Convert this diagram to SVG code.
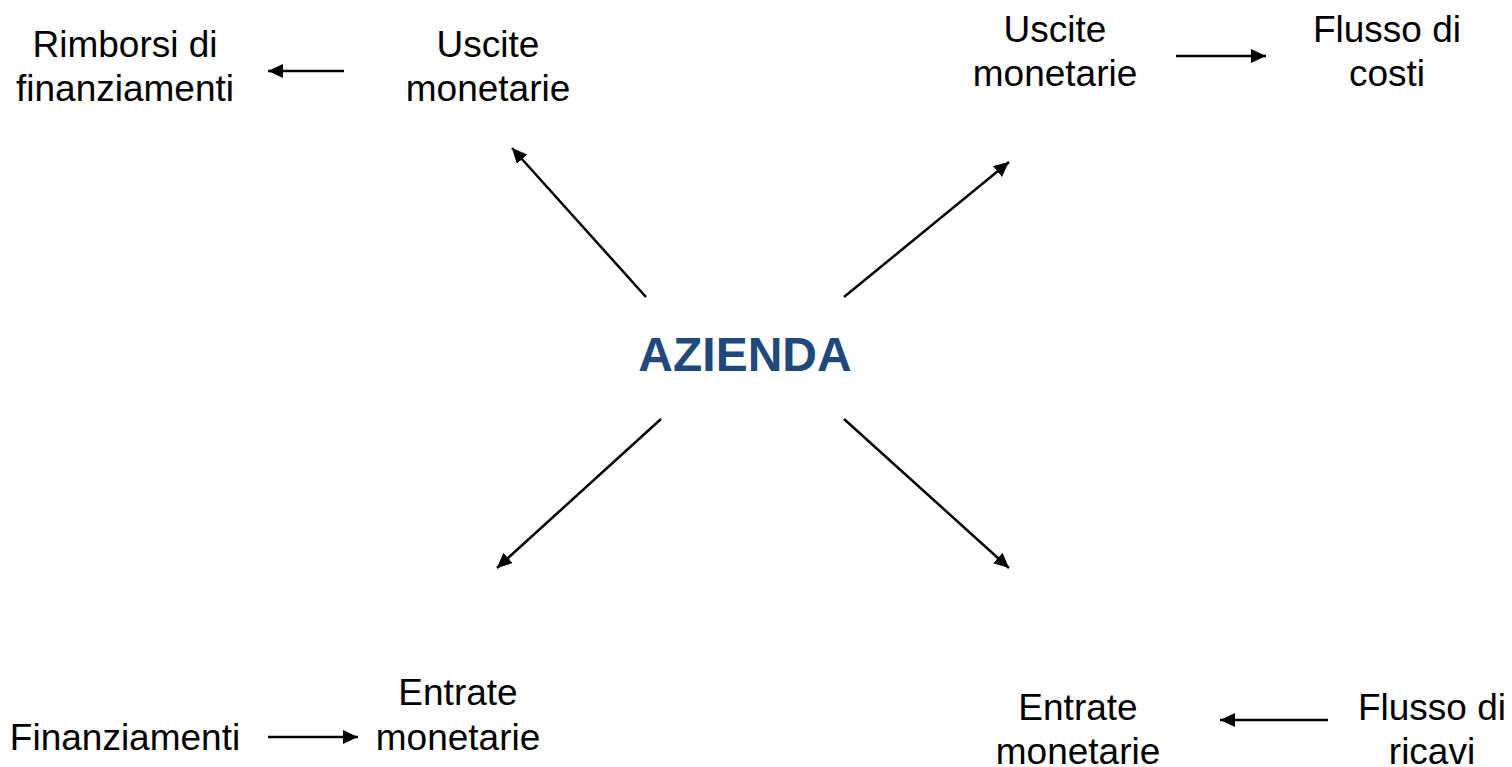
<svg xmlns="http://www.w3.org/2000/svg" width="1512" height="767" viewBox="0 0 1512 767">
  <defs>
    <marker id="arrow" markerUnits="userSpaceOnUse" markerWidth="17" markerHeight="16" refX="15" refY="7" orient="auto">
      <path d="M0,0 L15,7 L0,14 Z" fill="#000"/>
    </marker>
    <style>
      .lbl { font-family: "Liberation Sans", Arial, sans-serif; font-size: 37px; fill: #000; text-anchor: middle; }
      .hub { font-family: "Liberation Sans", Arial, sans-serif; font-size: 48px; font-weight: bold; fill: #1F497D; text-anchor: middle; }
      .edge { stroke: #000; stroke-width: 2.5; fill: none; marker-end: url(#arrow); }
    </style>
  </defs>
  <rect width="1512" height="767" fill="#fff"/>

  <g id="connectors">
    <line class="edge" x1="646" y1="297" x2="512" y2="148"/>
    <line class="edge" x1="844" y1="297" x2="1009" y2="162"/>
    <line class="edge" x1="661" y1="419" x2="497" y2="568"/>
    <line class="edge" x1="844" y1="419" x2="1009" y2="568"/>
    <line class="edge" x1="344" y1="71" x2="268" y2="71"/>
    <line class="edge" x1="1176" y1="56" x2="1266" y2="56"/>
    <line class="edge" x1="268" y1="737" x2="358" y2="737"/>
    <line class="edge" x1="1328" y1="720" x2="1220" y2="720"/>
  </g>

  <g id="azienda">
    <text class="hub" x="745" y="371">AZIENDA</text>
  </g>

  <g id="rimborsi">
    <text class="lbl" x="125" y="57">Rimborsi di</text>
    <text class="lbl" x="125" y="101">finanziamenti</text>
  </g>

  <g id="uscite-left">
    <text class="lbl" x="488" y="57">Uscite</text>
    <text class="lbl" x="488" y="101">monetarie</text>
  </g>

  <g id="uscite-right">
    <text class="lbl" x="1055" y="42">Uscite</text>
    <text class="lbl" x="1055" y="86">monetarie</text>
  </g>

  <g id="flusso-costi">
    <text class="lbl" x="1387" y="42">Flusso di</text>
    <text class="lbl" x="1387" y="86">costi</text>
  </g>

  <g id="finanziamenti">
    <text class="lbl" x="125" y="750">Finanziamenti</text>
  </g>

  <g id="entrate-left">
    <text class="lbl" x="458" y="705">Entrate</text>
    <text class="lbl" x="458" y="750">monetarie</text>
  </g>

  <g id="entrate-right">
    <text class="lbl" x="1078" y="720">Entrate</text>
    <text class="lbl" x="1078" y="764">monetarie</text>
  </g>

  <g id="flusso-ricavi">
    <text class="lbl" x="1432" y="720">Flusso di</text>
    <text class="lbl" x="1432" y="764">ricavi</text>
  </g>
</svg>
